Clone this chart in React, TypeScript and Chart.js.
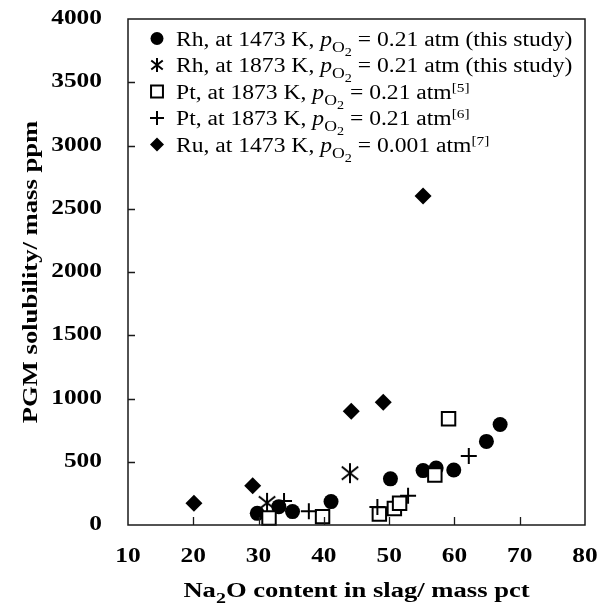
import React, { useEffect, useRef } from 'react';
import { Chart, registerables } from 'chart.js';

Chart.register(...registerables);

// ---------- data ----------
const xTickValues = [10, 20, 30, 40, 50, 60, 70, 80];
const yTickValues = [0, 500, 1000, 1500, 2000, 2500, 3000, 3500, 4000];

const rh1473X = [29.8, 33.1, 35.2, 41.1, 50.2, 55.2, 57.2, 59.9, 64.9, 67.0];
const rh1473Y = [92, 145, 106, 185, 365, 430, 450, 435, 661, 794];

const rh1873X = [31.3, 44.0];
const rh1873Y = [175, 410];

const pt5X = [31.6, 39.8, 48.5, 50.8, 51.6, 57.0, 59.1];
const pt5Y = [55, 66, 87, 130, 172, 395, 840];

const pt6X = [33.9, 37.7, 48.2, 52.9, 62.2];
const pt6Y = [190, 108, 142, 232, 545];

const ruX = [20.1, 29.1, 44.2, 49.1, 55.2];
const ruY = [172, 311, 900, 970, 2600];

type Seg = [string, 'n' | 'i' | 'sub' | 'subsub' | 'sup'];

const legendLabels: Seg[][] = [
  [['Rh, at 1473 K, ', 'n'], ['p', 'i'], ['O', 'sub'], ['2', 'subsub'], [' = 0.21 atm (this study)', 'n']],
  [['Rh, at 1873 K, ', 'n'], ['p', 'i'], ['O', 'sub'], ['2', 'subsub'], [' = 0.21 atm (this study)', 'n']],
  [['Pt, at 1873 K, ', 'n'], ['p', 'i'], ['O', 'sub'], ['2', 'subsub'], [' = 0.21 atm', 'n'], ['[5]', 'sup']],
  [['Pt, at 1873 K, ', 'n'], ['p', 'i'], ['O', 'sub'], ['2', 'subsub'], [' = 0.21 atm', 'n'], ['[6]', 'sup']],
  [['Ru, at 1473 K, ', 'n'], ['p', 'i'], ['O', 'sub'], ['2', 'subsub'], [' = 0.001 atm', 'n'], ['[7]', 'sup']],
];
const legendMarkers = ['circle', 'star', 'square', 'plus', 'diamond'];

const xTitle: Seg[] = [['Na', 'n'], ['2', 'sub'], ['O content in slag/ mass pct', 'n']];
const yTitle: Seg[] = [['PGM solubility/ mass ppm', 'n']];

// ---------- helpers ----------
const FAMILY = '"Liberation Serif", "Times New Roman", serif';

function makeAsterisk(size: number, lw: number): HTMLCanvasElement {
  const c = document.createElement('canvas');
  c.width = size;
  c.height = size;
  const g = c.getContext('2d')!;
  const m = size / 2;
  const r = size / 2 - 1;
  const d = r * 0.82;
  g.strokeStyle = '#000';
  g.lineWidth = lw;
  g.beginPath();
  g.moveTo(m, m - r);
  g.lineTo(m, m + r);
  g.moveTo(m - d, m - d * 0.8);
  g.lineTo(m + d, m + d * 0.8);
  g.moveTo(m - d, m + d * 0.8);
  g.lineTo(m + d, m - d * 0.8);
  g.stroke();
  return c;
}

function segFont(kind: Seg[1], size: number, bold: boolean) {
  const b = bold ? 'bold ' : '';
  switch (kind) {
    case 'i':
      return `italic ${b}${size}px ${FAMILY}`;
    case 'sub':
      return `${b}${Math.round(size * 0.75)}px ${FAMILY}`;
    case 'subsub':
      return `${b}${Math.round(size * 0.62)}px ${FAMILY}`;
    case 'sup':
      return `${b}${Math.round(size * 0.65)}px ${FAMILY}`;
    default:
      return `${b}${size}px ${FAMILY}`;
  }
}
function segDy(kind: Seg[1], size: number) {
  if (kind === 'sub') return size * 0.3;
  if (kind === 'subsub') return size * 0.5;
  if (kind === 'sup') return -size * 0.33;
  return 0;
}

function richWidth(ctx: CanvasRenderingContext2D, segs: Seg[], size: number, bold: boolean) {
  let w = 0;
  for (const [t, k] of segs) {
    ctx.font = segFont(k, size, bold);
    w += ctx.measureText(t).width;
  }
  return w;
}

// draws rich text starting at local origin (0, baseline 0) in the current transform
function drawRich(ctx: CanvasRenderingContext2D, segs: Seg[], size: number, bold: boolean) {
  let x = 0;
  ctx.textBaseline = 'alphabetic';
  ctx.textAlign = 'left';
  for (const [t, k] of segs) {
    ctx.font = segFont(k, size, bold);
    ctx.fillText(t, x, segDy(k, size));
    x += ctx.measureText(t).width;
  }
}

function drawMarker(ctx: CanvasRenderingContext2D, kind: string, x: number, y: number, s: number) {
  ctx.save();
  ctx.fillStyle = '#000';
  ctx.strokeStyle = '#000';
  ctx.lineWidth = 2;
  ctx.beginPath();
  if (kind === 'circle') {
    ctx.arc(x, y, s, 0, Math.PI * 2);
    ctx.fill();
  } else if (kind === 'diamond') {
    ctx.moveTo(x - s, y);
    ctx.lineTo(x, y - s);
    ctx.lineTo(x + s, y);
    ctx.lineTo(x, y + s);
    ctx.closePath();
    ctx.fill();
  } else if (kind === 'square') {
    const h = s * 0.85;
    ctx.fillStyle = '#fff';
    ctx.rect(x - h, y - h, 2 * h, 2 * h);
    ctx.fill();
    ctx.stroke();
  } else if (kind === 'plus') {
    ctx.moveTo(x - s, y);
    ctx.lineTo(x + s, y);
    ctx.moveTo(x, y - s);
    ctx.lineTo(x, y + s);
    ctx.stroke();
  } else if (kind === 'star') {
    const d = s * 0.82;
    ctx.moveTo(x, y - s);
    ctx.lineTo(x, y + s);
    ctx.moveTo(x - d, y - d * 0.8);
    ctx.lineTo(x + d, y + d * 0.8);
    ctx.moveTo(x - d, y + d * 0.8);
    ctx.lineTo(x + d, y - d * 0.8);
    ctx.stroke();
  }
  ctx.restore();
}

const TICK_SIZE = 20;
const TICK_SX = 1.27;
const TITLE_SIZE = 20;
const TITLE_SX = 1.33;
const LEG_SIZE = 20;
const LEG_SX = 1.18;

const decorPlugin = {
  id: 'decor',
  afterDraw(chart: any) {
    const ctx: CanvasRenderingContext2D = chart.ctx;
    const a = chart.chartArea;
    const xs = chart.scales.x;
    const ys = chart.scales.y;
    ctx.save();
    // frame
    ctx.strokeStyle = '#1a1a1a';
    ctx.lineWidth = 1.5;
    ctx.strokeRect(a.left, a.top, a.right - a.left, a.bottom - a.top);
    // inner ticks
    ctx.beginPath();
    for (const v of yTickValues) {
      if (v === 0 || v === 4000) continue;
      const py = Math.round(ys.getPixelForValue(v)) + 0.5;
      ctx.moveTo(a.left, py);
      ctx.lineTo(a.left + 7, py);
    }
    for (const v of xTickValues) {
      if (v === 10 || v === 80) continue;
      const px = Math.round(xs.getPixelForValue(v)) + 0.5;
      ctx.moveTo(px, a.bottom);
      ctx.lineTo(px, a.bottom - 8);
    }
    ctx.lineWidth = 1.3;
    ctx.stroke();

    ctx.fillStyle = '#000';
    // y tick labels
    ctx.font = `bold ${TICK_SIZE}px ${FAMILY}`;
    ctx.textBaseline = 'middle';
    ctx.textAlign = 'left';
    for (const v of yTickValues) {
      const t = String(v);
      const w = ctx.measureText(t).width * TICK_SX;
      const py = ys.getPixelForValue(v);
      ctx.save();
      ctx.translate(a.left - 26 - w, py);
      ctx.scale(TICK_SX, 1);
      ctx.fillText(t, 0, 0);
      ctx.restore();
    }
    // x tick labels
    for (const v of xTickValues) {
      const t = String(v);
      const w = ctx.measureText(t).width * TICK_SX;
      const px = xs.getPixelForValue(v);
      ctx.save();
      ctx.translate(px - w / 2, a.bottom + 32);
      ctx.scale(TICK_SX, 1);
      ctx.fillText(t, 0, 0);
      ctx.restore();
    }
    // x title
    {
      const w = richWidth(ctx, xTitle, TITLE_SIZE, true) * TITLE_SX;
      const cx = (a.left + a.right) / 2;
      ctx.save();
      ctx.translate(cx - w / 2, 597);
      ctx.scale(TITLE_SX, 1);
      drawRich(ctx, xTitle, TITLE_SIZE, true);
      ctx.restore();
    }
    // y title
    {
      const w = richWidth(ctx, yTitle, TITLE_SIZE, true) * TITLE_SX;
      const cy = (a.top + a.bottom) / 2;
      ctx.save();
      ctx.translate(37, cy + w / 2);
      ctx.rotate(-Math.PI / 2);
      ctx.scale(TITLE_SX, 1);
      drawRich(ctx, yTitle, TITLE_SIZE, true);
      ctx.restore();
    }
    // legend
    const lx = 157;
    const tx = 176;
    const y0 = 38.5;
    const dy = 26.5;
    legendLabels.forEach((segs, i) => {
      const cy = y0 + i * dy;
      drawMarker(ctx, legendMarkers[i], lx, cy, legendMarkers[i] === 'circle' ? 6.5 : 7);
      ctx.save();
      ctx.translate(tx, cy + 7);
      ctx.scale(LEG_SX, 1);
      ctx.fillStyle = '#000';
      drawRich(ctx, segs, LEG_SIZE, false);
      ctx.restore();
    });
    ctx.restore();
  },
};

function pts(xs: number[], ys: number[]) {
  return xs.map((x, i) => ({ x, y: ys[i] }));
}

export default function App() {
  const ref = useRef<HTMLCanvasElement | null>(null);
  useEffect(() => {
    document.body.style.margin = '0';
    const asterisk = makeAsterisk(22, 2);
    const chart = new Chart(ref.current!, {
      type: 'scatter',
      data: {
        datasets: [
          {
            label: 'Rh 1473',
            data: pts(rh1473X, rh1473Y),
            pointStyle: 'circle',
            pointRadius: 7.5,
            backgroundColor: '#000',
            borderColor: '#000',
            borderWidth: 0,
            order: 5,
            clip: false,
          },
          {
            label: 'Rh 1873',
            data: pts(rh1873X, rh1873Y),
            pointStyle: asterisk,
            pointRadius: 10,
            order: 4,
            clip: false,
          },
          {
            label: 'Pt [5]',
            data: pts(pt5X, pt5Y),
            pointStyle: 'rect',
            pointRadius: 9.5,
            backgroundColor: '#fff',
            borderColor: '#000',
            borderWidth: 2,
            order: 3,
            clip: false,
          },
          {
            label: 'Pt [6]',
            data: pts(pt6X, pt6Y),
            pointStyle: 'cross',
            pointRadius: 8,
            borderColor: '#000',
            borderWidth: 2,
            order: 2,
            clip: false,
          },
          {
            label: 'Ru',
            data: pts(ruX, ruY),
            pointStyle: 'rectRot',
            pointRadius: 8.5,
            backgroundColor: '#000',
            borderColor: '#000',
            borderWidth: 0,
            order: 1,
            clip: false,
          },
        ] as any,
      },
      options: {
        animation: false,
        responsive: true,
        maintainAspectRatio: false,
        layout: { padding: { left: 128, right: 13, top: 19, bottom: 83 } },
        plugins: { legend: { display: false }, tooltip: { enabled: false } },
        scales: {
          x: { type: 'linear', min: 10, max: 80, display: false },
          y: { type: 'linear', min: 0, max: 4000, display: false },
        },
      },
      plugins: [decorPlugin],
    });
    return () => chart.destroy();
  }, []);
  return (
    <div style={{ position: 'fixed', left: 0, top: 0, width: 598, height: 608 }}>
      <canvas ref={ref} />
    </div>
  );
}
